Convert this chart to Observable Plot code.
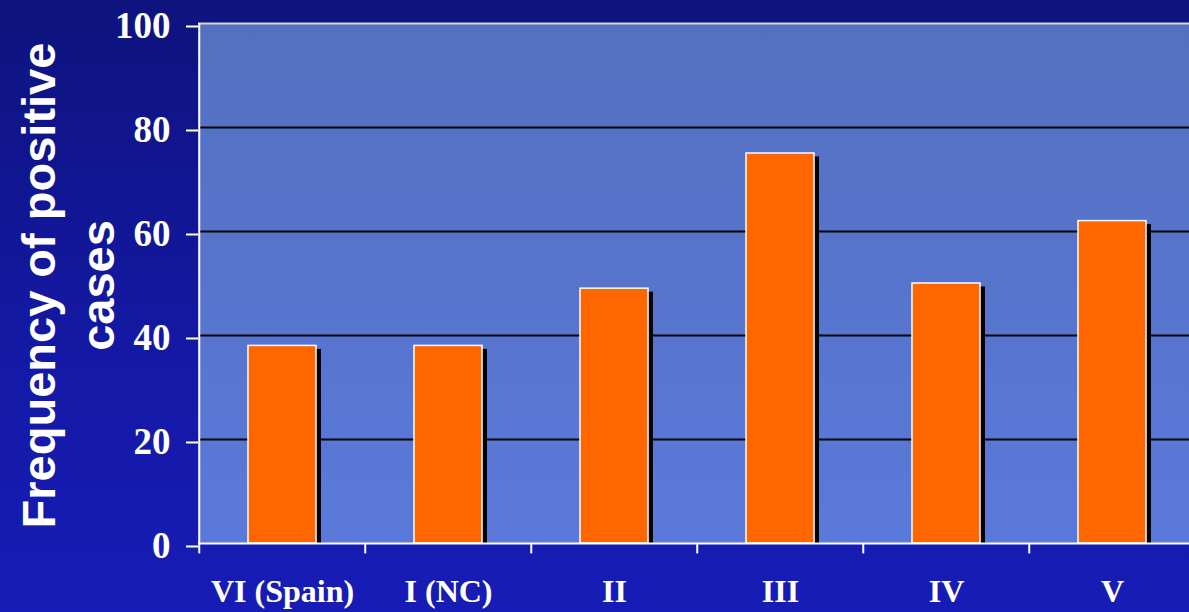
<!DOCTYPE html>
<html>
<head>
<meta charset="utf-8">
<script src="https://cdn.jsdelivr.net/npm/d3@7"></script>
<script src="https://cdn.jsdelivr.net/npm/@observablehq/plot@0.6"></script>
<style>
  html, body { margin: 0; padding: 0; }
  body {
    width: 1189px; height: 612px; overflow: hidden;
    background: linear-gradient(to bottom, #0e137e 0%, #1419a6 60%, #171cb6 100%);
  }
  #chart svg { display: block; overflow: visible; }
</style>
</head>
<body>
<svg width="0" height="0" style="position:absolute">
  <defs>
    <linearGradient id="plotGrad" x1="0" y1="0" x2="0" y2="1">
      <stop offset="0%" stop-color="#5470c0"/>
      <stop offset="100%" stop-color="#5a79da"/>
    </linearGradient>
  </defs>
</svg>
<div id="chart"></div>
<script>
const categories = ["VI (Spain)", "I (NC)", "II", "III", "IV", "V"];
const values = [38, 38, 49, 75, 50, 62];
const yTicks = [0, 20, 40, 60, 80, 100];
const gridTicks = [20, 40, 60, 80];
const topLine = [100];
const yTitle = "Frequency of positive\ncases";

const data = categories.map((c, i) => ({category: c, value: values[i]}));

const W = 1189, H = 612;
const xRange = [198, 1197];
const step = (xRange[1] - xRange[0]) / categories.length;
const serif = "'Liberation Serif', 'Times New Roman', serif";
const sans = "'Liberation Sans', Arial, sans-serif";

const chart = Plot.plot({
  width: W,
  height: H,
  marginLeft: 198,
  marginRight: 0,
  marginTop: 23,
  marginBottom: 69,
  style: {background: "transparent", color: "white", overflow: "visible"},
  x: {domain: categories, range: xRange, paddingInner: 0.59, paddingOuter: 0.295, align: 0.5},
  y: {domain: [0, 100], label: null},
  marks: [
    Plot.frame({fill: "url(#plotGrad)", stroke: null}),
    Plot.ruleY(gridTicks, {stroke: "black", strokeWidth: 2}),
    Plot.ruleY(topLine, {stroke: "#d6d6d6", strokeWidth: 2}),
    // bar shadows
    Plot.barY(data, {x: "category", y: "value", fill: "black", dx: 5, insetTop: 3.5}),
    // bars
    Plot.barY(data, {x: "category", y: "value", fill: "#ff6600", stroke: "white", strokeWidth: 1.5}),
    // left axis line
    Plot.ruleX([categories[0]], {x: d => d, y1: 0, y2: 100, dx: -step / 2, stroke: "white", strokeWidth: 2}),
    // baseline
    Plot.ruleY([0], {stroke: "white", strokeWidth: 2}),
    // x ticks at band boundaries
    Plot.ruleX(categories, {x: d => d, y1: 0, y2: -2, dx: -step / 2, stroke: "white", strokeWidth: 2}),
    Plot.axisY({
      ticks: yTicks, tickSize: 12, tickPadding: 16, strokeWidth: 2, color: "white",
      fontSize: 37, fontWeight: "bold", fontFamily: serif, dy: 3, label: null
    }),
    Plot.axisX({
      tickSize: 0, tickPadding: 36, color: "white",
      fontSize: 32, fontWeight: "bold", fontFamily: serif, label: null
    }),
    Plot.text([yTitle], {
      text: d => d, frameAnchor: "left", rotate: -90, textAnchor: "middle", lineAnchor: "bottom",
      lineHeight: 1.25, dx: -85, dy: 2, fill: "white", fontSize: 47, fontWeight: "bold", fontFamily: sans
    })
  ]
});
document.getElementById("chart").appendChild(chart);
</script>
</body>
</html>
